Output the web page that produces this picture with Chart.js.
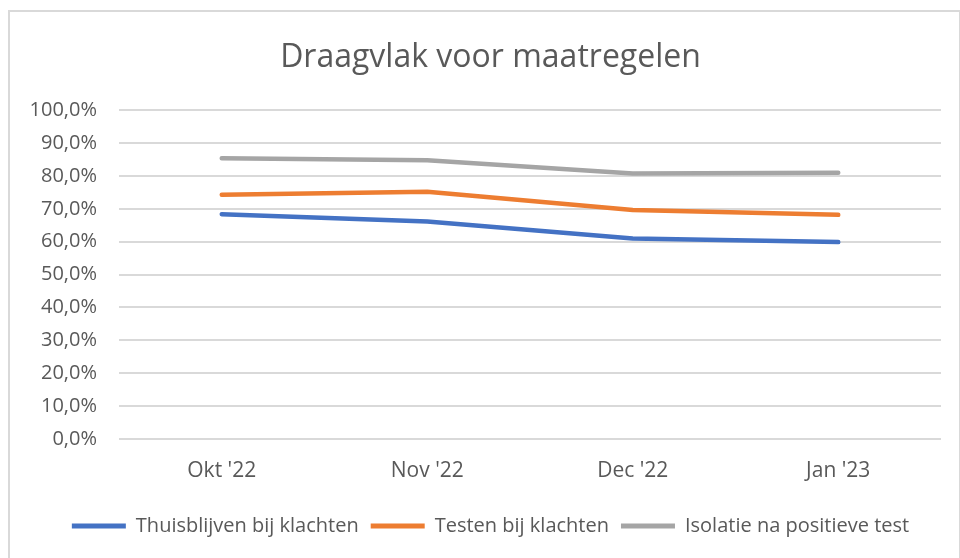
<!DOCTYPE html>
<html>
<head>
<meta charset="utf-8">
<script src="https://cdn.jsdelivr.net/npm/chart.js@4.4.0/dist/chart.umd.min.js"></script>
<style>
html,body{margin:0;padding:0;background:#fff;}
#frame{position:absolute;left:8px;top:10px;width:952px;height:560px;border:1px solid #d9d9d9;box-sizing:border-box;border-width:2px 1px 0 2px;}
#wrap{position:absolute;left:0;top:0;width:960px;height:558px;}
</style>
</head>
<body>
<div id="frame"></div>
<div id="wrap"><canvas id="c" width="960" height="558"></canvas></div>
<script>
const categories = ["Okt '22", "Nov '22", "Dec '22", "Jan '23"];
const seriesNames = ["Thuisblijven bij klachten", "Testen bij klachten", "Isolatie na positieve test"];
const thuisblijven = [0.684, 0.662, 0.610, 0.599];
const testen = [0.743, 0.752, 0.697, 0.682];
const isolatie = [0.854, 0.848, 0.808, 0.810];
const colors = ["#4472C4", "#ED7D31", "#A5A5A5"];

const mk = (label, data, color) => ({
  label, data, borderColor: color, backgroundColor: color,
  borderWidth: 4.5, pointRadius: 0, pointHoverRadius: 0, tension: 0,
  borderCapStyle: 'round', borderJoinStyle: 'round'
});

new Chart(document.getElementById('c'), {
  type: 'line',
  data: {
    labels: categories,
    datasets: [
      mk(seriesNames[0], thuisblijven, colors[0]),
      mk(seriesNames[1], testen, colors[1]),
      mk(seriesNames[2], isolatie, colors[2])
    ]
  },
  options: {
    responsive: false,
    animation: false,
    layout: { padding: { left: 40, right: 19, top: 28, bottom: 12 } },
    plugins: {
      title: {
        display: true, text: 'Draagvlak voor maatregelen',
        color: '#595959', font: { family: 'Open Sans', size: 32, weight: 'normal' },
        padding: { top: 11, bottom: 33 }
      },
      legend: {
        position: 'bottom',
        labels: {
          color: '#595959', font: { family: 'Open Sans', size: 20 },
          boxWidth: 54, boxHeight: 5, padding: 12,
          generateLabels(chart) {
            return chart.data.datasets.map((d, i) => ({
              text: d.label, fillStyle: d.borderColor, strokeStyle: d.borderColor,
              lineWidth: 0, hidden: false, datasetIndex: i, fontColor: '#595959'
            }));
          }
        }
      },
      tooltip: { enabled: false }
    },
    scales: {
      x: {
        offset: true,
        grid: { display: false, drawTicks: false },
        border: { display: false },
        ticks: { color: '#595959', font: { family: 'Open Sans', size: 21 }, padding: 20 }
      },
      y: {
        min: 0, max: 1,
        grid: { color: '#d9d9d9', lineWidth: 2, drawTicks: false },
        border: { display: false },
        afterFit: s => { s.width = 79; s._computeLabelArea = () => undefined; },
        ticks: {
          stepSize: 0.1, color: '#595959', font: { family: 'Open Sans', size: 20 }, padding: 22,
          callback: v => (v * 100).toFixed(1).replace('.', ',') + '%'
        }
      }
    }
  }
});
</script>
</body>
</html>
